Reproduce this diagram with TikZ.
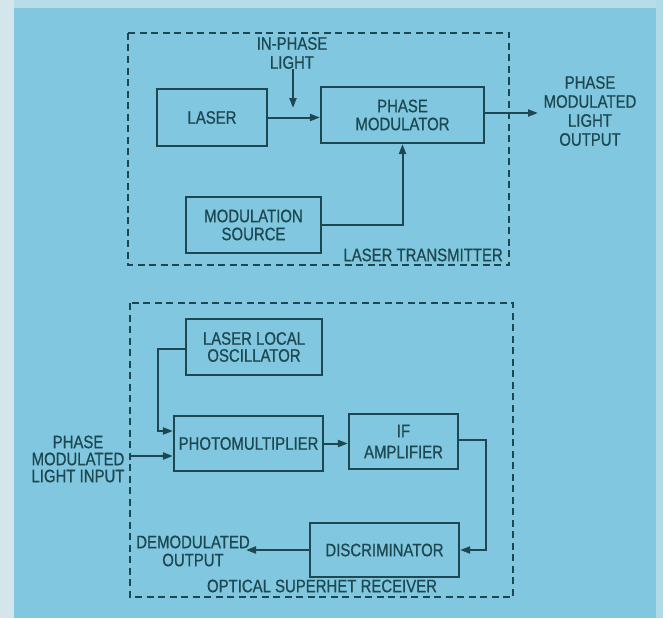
\documentclass[tikz,border=0pt]{standalone}
\usepackage{fontspec}
\setmainfont{Liberation Sans}[FakeStretch=0.83,FakeBold=0.7]
\usetikzlibrary{arrows.meta,calc}
\definecolor{bg}{HTML}{80C7DF}
\definecolor{ink}{HTML}{1D4852}
\definecolor{edge}{HTML}{D2E6EC}
\begin{document}
\begin{tikzpicture}[x=1pt,y=-1pt,
  txt/.style={text=ink,align=center,inner sep=0pt,font=\fontsize{18}{18}\selectfont},
  blk/.style={txt,draw=ink,line width=2.2pt},
  conn/.style={draw=ink,line width=2pt},
  arr/.style={conn,-{Triangle[length=10pt,width=7pt]}},
  grp/.style={draw=ink,line width=1.4pt,dash pattern=on 7pt off 4.5pt}]
% background
\fill[bg] (0,0) rectangle (663,618);
\fill[edge] (0,0) rectangle (14,618);
\fill[edge!70!bg] (14,0) rectangle (663,8);
\fill[edge!60!bg] (656,0) rectangle (663,618);
\useasboundingbox (0,0) rectangle (663,618);

% ---------- Laser transmitter ----------
\draw[grp] (128,33) rectangle (509,265);
\node[blk,minimum width=110pt,minimum height=57pt] (laser) at (212,117.5) {LASER};
\node[blk,minimum width=163pt,minimum height=56pt] (pm) at (402.5,115) {PHASE\\MODULATOR};
\node[blk,minimum width=135pt,minimum height=56pt] (ms) at (253.5,225) {MODULATION\\SOURCE};
\node[txt,font=\fontsize{18}{19}\selectfont] (inph) at (292,53) {IN-PHASE\\LIGHT};
\node[txt,font=\fontsize{18}{19}\selectfont] (out) at (590,111) {PHASE\\MODULATED\\LIGHT\\OUTPUT};
\node[txt,anchor=east] (lt) at (503,255) {LASER TRANSMITTER};
\coordinate (inTip) at (293,108);
\coordinate (outTip) at (538,113);

\draw[arr] (laser.east) -- (laser.east -| pm.west);
\draw[arr] (inph.south -| inTip) -- (inTip);
\draw[arr] (ms.east) -| (pm.south);
\draw[arr] (pm.east |- outTip) -- (outTip);

% ---------- Optical superhet receiver ----------
\draw[grp] (130,303) rectangle (513,597);
\node[blk,minimum width=136pt,minimum height=56pt,font=\fontsize{18}{17}\selectfont] (llo) at (254,347) {LASER LOCAL\\OSCILLATOR};
\node[blk,minimum width=149pt,minimum height=55pt] (pmt) at (248.5,443.5) {PHOTOMULTIPLIER};
\node[blk,minimum width=109pt,minimum height=55pt,font=\fontsize{18}{21}\selectfont] (ifa) at (403.5,441.5) {IF\\AMPLIFIER};
\node[blk,minimum width=149pt,minimum height=54pt] (disc) at (384.5,550) {DISCRIMINATOR};
\node[txt,font=\fontsize{18}{17}\selectfont] (inl) at (78,459) {PHASE\\MODULATED\\LIGHT INPUT};
\node[txt] (dem) at (193,551) {DEMODULATED\\OUTPUT};
\node[txt] (osr) at (322,586) {OPTICAL SUPERHET RECEIVER};
\coordinate (fbx) at (158,349);
\coordinate (inStart) at (130,456);
\coordinate (ifx) at (486,440);
\coordinate (demTip) at (246,550);

\draw[arr] (llo.west |- fbx) -- (fbx) -- ($(fbx |- pmt.west)+(0,-12.5)$) -- ($(pmt.west)+(0,-12.5)$);
\draw[arr] (inStart) -- (inStart -| pmt.west);
\draw[arr] (pmt.east) -- (pmt.east -| ifa.west);
\draw[arr] (ifa.east |- ifx) -- (ifx) |- (disc.east);
\draw[arr] (disc.west) -- (demTip);
\end{tikzpicture}
\end{document}
